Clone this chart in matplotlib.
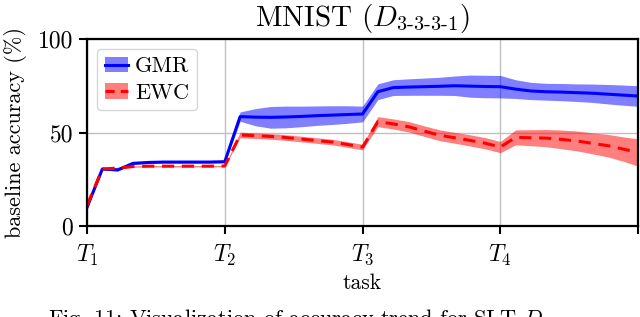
import numpy as np
import matplotlib
matplotlib.use("Agg")
import matplotlib.pyplot as plt
from matplotlib.patches import Patch
from matplotlib.lines import Line2D

# accuracy per evaluation step, 9 steps per task (x = step / 9)
gmr_mean = [10.0, 30.5, 30.0, 33.5, 34.0, 34.2, 34.2, 34.2, 34.2, 34.4,
            58.5, 58.2, 58.1, 58.3, 58.6, 59.0, 59.3, 59.6, 59.9,
            71.8, 74.0, 74.3, 74.5, 74.7, 75.0, 74.8, 74.6, 74.5,
            73.2, 72.2, 71.8, 71.6, 71.3, 71.0, 70.5, 70.0, 69.5]
gmr_std = [0.6, 0.6, 0.6, 0.6, 0.6, 0.6, 0.6, 0.6, 0.6, 0.6,
           2.5, 4.6, 5.8, 5.8, 5.5, 5.2, 5.0, 4.7, 4.2,
           4.2, 4.2, 4.4, 4.6, 4.8, 5.2, 5.9, 6.0, 6.0,
           5.0, 4.6, 4.5, 4.6, 4.7, 4.9, 5.2, 5.4, 5.5]
ewc_mean = [11.0, 30.5, 31.0, 31.8, 32.0, 32.0, 32.0, 32.0, 32.0, 32.1,
            48.7, 48.3, 47.9, 47.3, 46.5, 45.7, 44.9, 43.6, 42.2,
            55.8, 54.6, 53.1, 50.8, 48.6, 47.2, 45.8, 44.3, 42.2,
            47.4, 47.2, 47.0, 46.3, 45.5, 44.2, 43.0, 41.2, 39.3]
ewc_std = [0.4, 0.4, 0.4, 0.4, 0.4, 0.4, 0.4, 0.4, 0.4, 0.4,
           1.5, 1.5, 1.5, 1.5, 1.5, 1.5, 1.5, 1.5, 1.5,
           2.7, 2.7, 2.8, 2.8, 2.9, 2.9, 3.0, 3.0, 3.0,
           4.0, 4.3, 4.6, 5.0, 5.3, 5.6, 6.0, 6.5, 7.3]
steps_per_task = 9
task_labels = [r"$T_1$", r"$T_2$", r"$T_3$", r"$T_4$", ""]

plt.rcParams["mathtext.fontset"] = "cm"
plt.rcParams["font.family"] = "serif"
plt.rcParams["font.serif"] = ["cmr10", "DejaVu Serif"]
plt.rcParams["axes.formatter.use_mathtext"] = True

x = np.arange(len(gmr_mean)) / steps_per_task
gm, gs = np.array(gmr_mean), np.array(gmr_std)
em, es = np.array(ewc_mean), np.array(ewc_std)

fig = plt.figure(figsize=(6.4, 3.17), dpi=100)
ax = fig.add_axes([0.136, 0.287, 0.861, 0.590])

ax.fill_between(x, gm - gs, gm + gs, color="#0000ff", alpha=0.5, lw=0)
ax.plot(x, gm, color="#0000ff", lw=2.2)
ax.fill_between(x, em - es, em + es, color="#ff0000", alpha=0.5, lw=0)
ax.plot(x, em, color="#ff0000", lw=2.2, dashes=(4, 2.5))

ax.set_xlim(0, 4)
ax.set_ylim(0, 100)
ax.set_xticks(range(5))
ax.set_xticklabels(task_labels, fontsize=17)
ax.set_yticks([0, 50, 100])
ax.set_yticklabels(["0", "50", "100"], fontsize=17)
ax.tick_params(direction="out", length=6, width=1.5, pad=4)
ax.tick_params(axis="x", pad=6)
ax.grid(True, color="#c0c0c0", lw=1)
ax.set_axisbelow(True)
for s in ax.spines.values():
    s.set_linewidth(1.6)

ax.set_xlabel("task", fontsize=15.5, labelpad=4)
ax.set_ylabel("baseline accuracy (%)", fontsize=16, labelpad=8)
ax.set_title(r"MNIST ($D_{\text{3-3-3-1}}$)", fontsize=21, pad=9)

handles = [(Patch(color="#0000ff", alpha=0.5, lw=0), Line2D([], [], color="#0000ff", lw=2.2)),
           (Patch(color="#ff0000", alpha=0.5, lw=0), Line2D([], [], color="#ff0000", lw=2.2, dashes=(3, 2)))]
ax.legend(handles, ["GMR", "EWC"], loc="upper left", fontsize=16, handlelength=1.05,
          frameon=True, edgecolor="#cccccc", fancybox=True, borderpad=0.35,
          labelspacing=0.3, handletextpad=0.3, borderaxespad=0.45)

fig.text(0.075, -0.005, r"Fig. 11: Visualization of accuracy trend for SLT $D_{\text{3-3-3-1}}$.",
         fontsize=16, ha="left", va="center")

fig.savefig("out.png", dpi=100)
